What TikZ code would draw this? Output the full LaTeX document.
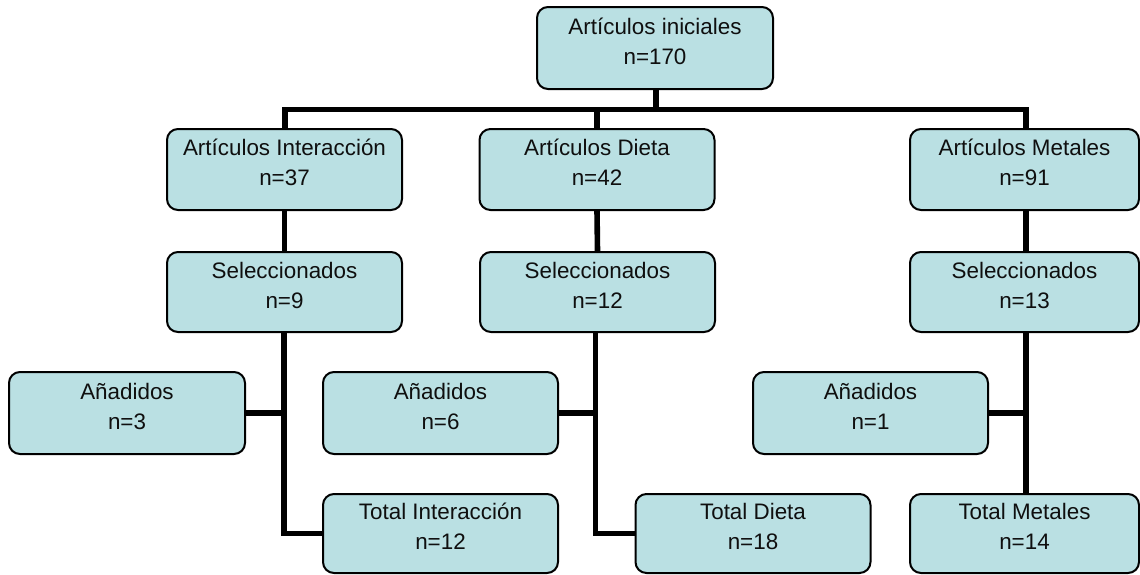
\documentclass[tikz,border=0pt]{standalone}
\usepackage{fontspec}
\setmainfont{Liberation Sans}
\definecolor{boxfill}{RGB}{186,224,227}
\definecolor{txtcol}{RGB}{15,15,15}
\tikzset{
  flowbox/.style={draw=black, line width=2pt, fill=boxfill, rounded corners=11pt,
    minimum width=235pt, minimum height=81pt, inner sep=0pt},
  narrowbox/.style={flowbox, minimum width=229pt},
  boxtext/.style={align=center, text=txtcol, inner sep=0pt,
    font=\fontsize{22.4pt}{30pt}\selectfont},
  conn/.style={draw=black, line width=5.6pt, line join=miter}
}
\newcommand{\boxlabel}[2]{\node[boxtext] (#1-t) at ([yshift=7pt]#1.center) {#2};}
\begin{document}
\begin{tikzpicture}[x=1pt,y=1pt]
\useasboundingbox (0,0) rectangle (1140,-574);
\coordinate (bar) at (0,-109.5);
% boxes
\node[flowbox, minimum width=236pt, minimum height=82pt] (top) at (655,-48) {};
\node[flowbox] (i1) at (284.5,-169.5) {};
\node[flowbox] (d1) at (597,-169.5) {};
\node[narrowbox] (m1) at (1024.5,-169.5) {};
\node[flowbox, minimum height=80pt] (i2) at (284.5,-292) {};
\node[flowbox, minimum height=80pt] (d2) at (597.5,-292) {};
\node[narrowbox, minimum height=80pt] (m2) at (1024.5,-292) {};
\node[flowbox, minimum width=236pt, minimum height=82pt] (ia) at (127,-413) {};
\node[flowbox, minimum height=82pt] (da) at (440.5,-413) {};
\node[flowbox, minimum height=82pt] (ma) at (870.5,-413) {};
\node[flowbox, minimum height=79pt] (it) at (440.5,-533.5) {};
\node[flowbox, minimum height=79pt] (dt) at (753,-533.5) {};
\node[narrowbox, minimum height=79pt] (mt) at (1024.5,-533.5) {};
% column coordinates
\coordinate (ic) at ([xshift=-0.5pt]i2.south);
\coordinate (dc) at ([xshift=-2pt]d2.south);
\coordinate (mc) at ([xshift=1.5pt]m2.south);
% connectors
\path[conn] ([xshift=1pt]top.south) -- ([xshift=1pt]top.south |- bar);
\path[conn] ([xshift=0.5pt]i1.north) -- ([xshift=0.5pt]i1.north |- bar) -- ([xshift=1.5pt]m1.north |- bar) -- ([xshift=1.5pt]m1.north);
\path[conn] (d1.north) -- (d1.north |- bar);
\path[conn] (i1.south) -- (i2.north);
\path[conn] (d1.south) -- (d2.north);
\path[conn] ([xshift=1.5pt]m1.south) -- ([xshift=1.5pt]m2.north);
\path[conn] (ic) -- (ic |- it.west) -- (it.west);
\path[conn] (dc) -- (dc |- dt.west) -- (dt.west);
\path[conn] (mc) -- (mc |- mt.north);
\path[conn] (ia.east) -- (ia.east -| ic);
\path[conn] (da.east) -- (da.east -| dc);
\path[conn] (ma.east) -- (ma.east -| mc);
% texts
\boxlabel{top}{Artículos iniciales\\n=170}
\boxlabel{i1}{Artículos Interacción\\n=37}
\boxlabel{d1}{Artículos Dieta\\n=42}
\boxlabel{m1}{Artículos Metales\\n=91}
\boxlabel{i2}{Seleccionados\\n=9}
\boxlabel{d2}{Seleccionados\\n=12}
\boxlabel{m2}{Seleccionados\\n=13}
\boxlabel{ia}{Añadidos\\n=3}
\boxlabel{da}{Añadidos\\n=6}
\boxlabel{ma}{Añadidos\\n=1}
\boxlabel{it}{Total Interacción\\n=12}
\boxlabel{dt}{Total Dieta\\n=18}
\boxlabel{mt}{Total Metales\\n=14}
\end{tikzpicture}
\end{document}
